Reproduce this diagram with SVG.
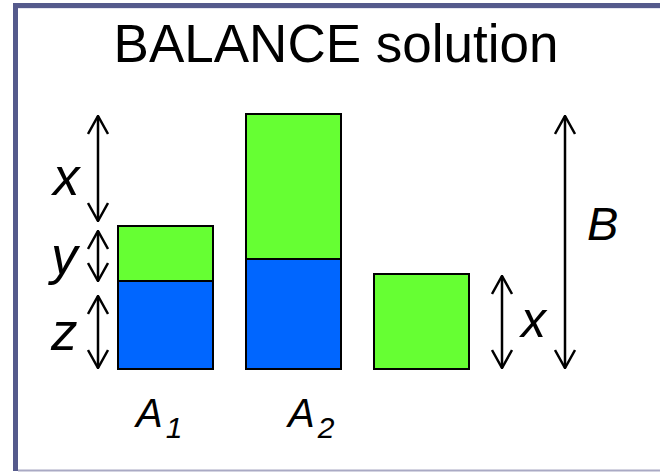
<svg xmlns="http://www.w3.org/2000/svg" width="660" height="472" viewBox="0 0 660 472">
<defs>
<style>
.t{font-family:"Liberation Sans",Arial,sans-serif;fill:#000}
.i{font-style:italic}
.g{fill:#66FF33;stroke:#000;stroke-width:2}
.b{fill:#0066FF;stroke:#000;stroke-width:2}
.a{stroke:#000;stroke-width:2.5;fill:none}
</style>
<marker id="h" viewBox="0 0 20 22" refX="19" refY="11" markerWidth="20" markerHeight="22" markerUnits="userSpaceOnUse" orient="auto-start-reverse">
<path d="M1,1 L19,11 L1,21" fill="none" stroke="#000" stroke-width="2.5"/>
</marker>
</defs>
<rect width="660" height="472" fill="#fff"/>
<g id="frame">
<rect x="13" y="3" width="647" height="5" fill="#555A8C"/>
<rect x="13" y="3" width="5" height="468" fill="#555A8C"/>
<line x1="18" y1="8.5" x2="660" y2="8.5" stroke="#E4E4F0" stroke-width="1"/>
<line x1="18" y1="470.5" x2="660" y2="470.5" stroke="#AAAAC4" stroke-width="2"/>
</g>
<g id="title"><text class="t" x="336" y="62" font-size="53" text-anchor="middle">BALANCE solution</text></g>
<g id="A1">
<rect class="g" x="118" y="226" width="95" height="55"/>
<rect class="b" x="118" y="281" width="95" height="88"/>
<text class="t i" x="136" y="427" font-size="40">A<tspan font-size="30" dx="3" dy="11">1</tspan></text>
</g>
<g id="A2">
<rect class="g" x="246" y="114" width="95" height="145"/>
<rect class="b" x="246" y="259" width="95" height="110"/>
<text class="t i" x="288" y="427" font-size="40">A<tspan font-size="30" dx="3" dy="11">2</tspan></text>
</g>
<g id="X">
<rect class="g" x="374" y="274" width="95" height="95"/>
</g>
<g id="connectors">
<line class="a" x1="98" y1="116" x2="98" y2="221" marker-start="url(#h)" marker-end="url(#h)"/>
<line class="a" x1="98" y1="231" x2="98" y2="281" marker-start="url(#h)" marker-end="url(#h)"/>
<line class="a" x1="98" y1="296" x2="98" y2="368" marker-start="url(#h)" marker-end="url(#h)"/>
<line class="a" x1="502" y1="276" x2="502" y2="368" marker-start="url(#h)" marker-end="url(#h)"/>
<line class="a" x1="565" y1="116" x2="565" y2="368" marker-start="url(#h)" marker-end="url(#h)"/>
</g>
<g id="labels">
<text class="t i" x="53" y="195" font-size="53">x</text>
<text class="t i" x="51" y="274" font-size="53">y</text>
<text class="t i" x="51" y="350" font-size="53">z</text>
<text class="t i" x="521" y="337" font-size="50">x</text>
<text class="t i" x="587" y="240" font-size="47">B</text>
</g>
</svg>
